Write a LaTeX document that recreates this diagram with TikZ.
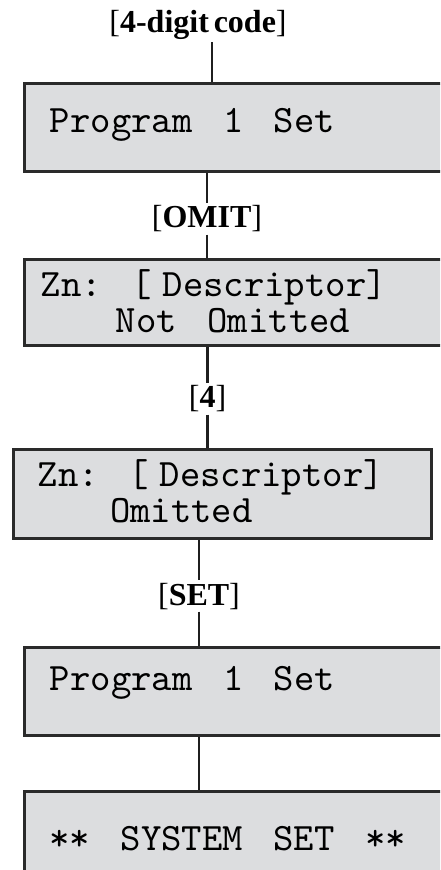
\documentclass[tikz,border=0pt]{standalone}
\usepackage{fontspec}
\setmainfont{Liberation Serif}[WordSpace=0.6]
\newfontfamily\lcdfont{lmmono10-regular.otf}[WordSpace=1.5]
\definecolor{lcdfill}{RGB}{220,221,223}
\definecolor{lcdedge}{RGB}{42,42,42}

\begin{document}
\begin{tikzpicture}[x=0.5pt, y=-0.5pt]
\tikzstyle{lcd}=[draw=lcdedge, fill=lcdfill, line width=1.5pt, rectangle, minimum width=225pt, minimum height=44pt, inner sep=0pt]
\tikzstyle{lcdline}=[anchor=base west, inner sep=0pt, font=\lcdfont\fontsize{19.4}{22}\selectfont]
\tikzstyle{keylabel}=[anchor=base, inner sep=1pt, font=\fontsize{16}{19}\selectfont]
\tikzstyle{wire}=[draw=black!88, line width=1.15pt]

\clip (0,0) rectangle (440,870);

\draw (249.3,128) node[lcd] (prog) {};
\draw (249,302.5) node[lcd, minimum height=43pt] (zone) {};
\draw (222,493.7) node[lcd, minimum width=209pt, minimum height=44.3pt] (zoneomit) {};
\draw (249.3,691.9) node[lcd] (progset) {};
\draw (249.3,835.7) node[lcd] (sysset) {};

\draw (49.5,133) node[lcdline] (prog1) {Program 1 Set};
\draw (40.5,297) node[lcdline] (zone1) {Zn: \kern-4pt[\kern5.5pt Descriptor]};
\draw (115.5,333) node[lcdline] (zone2) {Not Omitted};
\draw (37.5,486.7) node[lcdline] (zoneomit1) {Zn: \kern-4pt[\kern5.5pt Descriptor]};
\draw (109.6,522.7) node[lcdline] (zoneomit2) {Omitted};
\draw (49.5,690.7) node[lcdline] (progset1) {Program 1 Set};
\draw (49,850.5) node[lcdline] (sysset1) {** SYSTEM SET **};

\draw (198,33) node[keylabel] (code) {[\textbf{4-digit code}]};
\draw (207,228) node[keylabel] (omit) {[\textbf{OMIT}]};
\draw (207.5,408) node[keylabel] (four) {[\textbf{4}]};
\draw (199,605) node[keylabel] (setkey) {[\textbf{SET}]};

\draw[wire] (code.south) ++(14,0) coordinate (codewire) -- (codewire |- prog.north);
\draw[wire] (prog.south -| omit) -- (omit) -- (zone.north -| omit);
\draw[wire] (zone.south -| four) -- (four) -- (zoneomit.north -| four);
\draw[wire] (zoneomit.south -| setkey) -- (setkey) -- (progset.north -| setkey);
\draw[wire] (progset.south -| setkey) -- (sysset.north -| setkey);
\end{tikzpicture}
\end{document}
